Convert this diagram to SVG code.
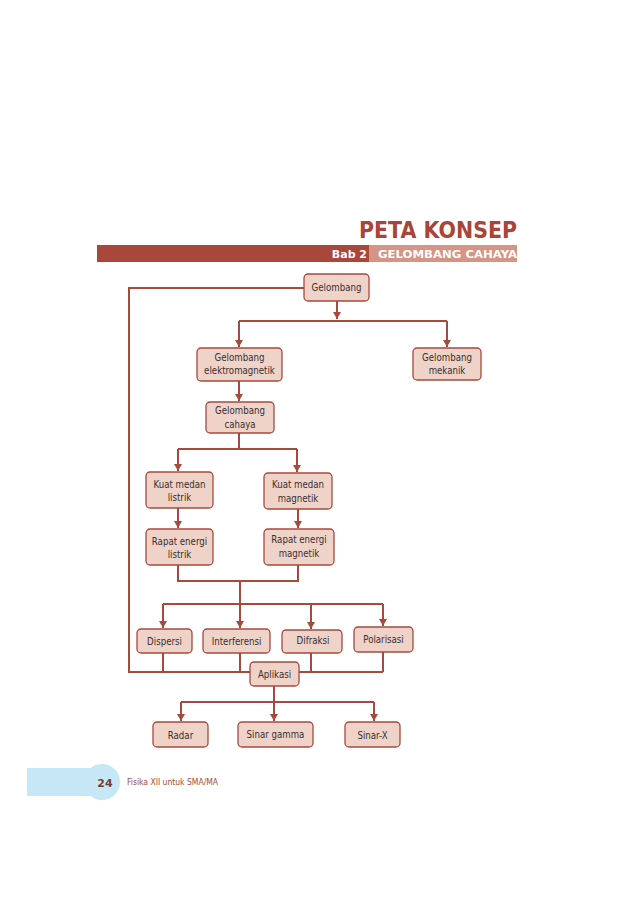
<svg xmlns="http://www.w3.org/2000/svg" width="638" height="903" viewBox="0 0 638 903">
<style>
.n rect{fill:#efd2c8;stroke:#a64a3e;stroke-width:1.3}
.n text{font-family:"DejaVu Sans Condensed","DejaVu Sans",sans-serif;font-size:9.6px;fill:#3a302e;text-anchor:middle}
#connectors path{fill:none;stroke:#a64a3e;stroke-width:2}
.hdr{font-family:"DejaVu Sans",sans-serif;font-weight:bold}
</style>
<defs>
<marker id="ah" markerUnits="userSpaceOnUse" markerWidth="8" markerHeight="8" refX="7" refY="4" orient="auto" viewBox="0 0 8 8">
<path d="M0,0 L7,4 L0,8 Z" fill="#a64a3e"/>
</marker>
</defs>
<rect width="638" height="903" fill="#fff"/>
<g id="header">
<text class="hdr" x="517" y="238" font-size="23" fill="#a84438" text-anchor="end" textLength="158" lengthAdjust="spacingAndGlyphs" font-weight="900">PETA KONSEP</text>
<rect x="97" y="245" width="272" height="17" fill="#a9473b"/>
<rect x="369" y="245" width="148" height="17" fill="#d49585"/>
<text class="hdr" x="367" y="257.5" font-size="11" fill="#fff" text-anchor="end">Bab 2</text>
<text class="hdr" x="378" y="257.5" font-size="11" fill="#fff" textLength="139" lengthAdjust="spacingAndGlyphs">GELOMBANG CAHAYA</text>
</g>
<g id="connectors">
<path d="M304,288 H129 V672 H383"/>
<path d="M337,301 V319" marker-end="url(#ah)"/>
<path d="M239,321 H447"/>
<path d="M239,321 V347" marker-end="url(#ah)"/>
<path d="M447,321 V347" marker-end="url(#ah)"/>
<path d="M239,381 V401" marker-end="url(#ah)"/>
<path d="M239,433 V449 M178,449 H297"/>
<path d="M178,449 V471" marker-end="url(#ah)"/>
<path d="M297,449 V472" marker-end="url(#ah)"/>
<path d="M178,508 V528" marker-end="url(#ah)"/>
<path d="M298,509 V528" marker-end="url(#ah)"/>
<path d="M178,565 V581 H298 V565 M240,581 V604 M163,604 H383"/>
<path d="M163,604 V628" marker-end="url(#ah)"/>
<path d="M240,604 V628" marker-end="url(#ah)"/>
<path d="M311,604 V629" marker-end="url(#ah)"/>
<path d="M383,604 V626" marker-end="url(#ah)"/>
<path d="M163,653 V672 M240,653 V672 M311,653 V672 M383,652 V672"/>
<path d="M274,686 V702 M181,702 H374"/>
<path d="M181,702 V721" marker-end="url(#ah)"/>
<path d="M274,702 V721" marker-end="url(#ah)"/>
<path d="M374,702 V721" marker-end="url(#ah)"/>
</g>
<g id="gelombang" class="n"><rect x="304" y="274" width="65" height="27" rx="4"/><text x="336.5" y="291">Gelombang</text></g>
<g id="elektromagnetik" class="n"><rect x="197" y="348" width="85" height="33" rx="4"/><text x="239.5" y="361">Gelombang</text><text x="239.5" y="374">elektromagnetik</text></g>
<g id="mekanik" class="n"><rect x="413" y="348" width="68" height="32" rx="4"/><text x="447" y="361">Gelombang</text><text x="447" y="374">mekanik</text></g>
<g id="cahaya" class="n"><rect x="206" y="402" width="68" height="31" rx="4"/><text x="240" y="414">Gelombang</text><text x="240" y="428">cahaya</text></g>
<g id="kuat-listrik" class="n"><rect x="146" y="472" width="67" height="36" rx="4"/><text x="179.5" y="488">Kuat medan</text><text x="179.5" y="501">listrik</text></g>
<g id="kuat-magnetik" class="n"><rect x="264" y="473" width="68" height="36" rx="4"/><text x="298" y="488">Kuat medan</text><text x="298" y="502">magnetik</text></g>
<g id="rapat-listrik" class="n"><rect x="146" y="529" width="67" height="36" rx="4"/><text x="179.5" y="545">Rapat energi</text><text x="179.5" y="558">listrik</text></g>
<g id="rapat-magnetik" class="n"><rect x="264" y="529" width="70" height="36" rx="4"/><text x="299" y="543">Rapat energi</text><text x="299" y="557">magnetik</text></g>
<g id="dispersi" class="n"><rect x="137" y="629" width="55" height="24" rx="4"/><text x="164.5" y="644.5">Dispersi</text></g>
<g id="interferensi" class="n"><rect x="203" y="629" width="67" height="24" rx="4"/><text x="236.5" y="644.5">Interferensi</text></g>
<g id="difraksi" class="n"><rect x="282" y="630" width="60" height="23" rx="4"/><text x="313" y="643.5">Difraksi</text></g>
<g id="polarisasi" class="n"><rect x="354" y="627" width="59" height="25" rx="4"/><text x="383.5" y="642.5">Polarisasi</text></g>
<g id="aplikasi" class="n"><rect x="250" y="662" width="49" height="24" rx="4"/><text x="274.5" y="677.5">Aplikasi</text></g>
<g id="radar" class="n"><rect x="153" y="722" width="55" height="25" rx="4"/><text x="180.5" y="738.5">Radar</text></g>
<g id="sinar-gamma" class="n"><rect x="238" y="722" width="75" height="25" rx="4"/><text x="275.5" y="737.5">Sinar gamma</text></g>
<g id="sinar-x" class="n"><rect x="345" y="722" width="55" height="25" rx="4"/><text x="372.5" y="738.5">Sinar-X</text></g>
<g id="footer">
<rect x="27" y="768" width="73" height="28" fill="#c6e8f6"/>
<circle cx="102" cy="782" r="18" fill="#c6e8f6"/>
<text x="105" y="786.5" font-family="DejaVu Sans,sans-serif" font-weight="bold" font-size="11" fill="#7a3a33" text-anchor="middle">24</text>
<text x="127" y="785" font-family="DejaVu Sans Condensed,DejaVu Sans,sans-serif" font-size="8.5" fill="#a64a3e">Fisika XII untuk SMA/MA</text>
</g>
</svg>
